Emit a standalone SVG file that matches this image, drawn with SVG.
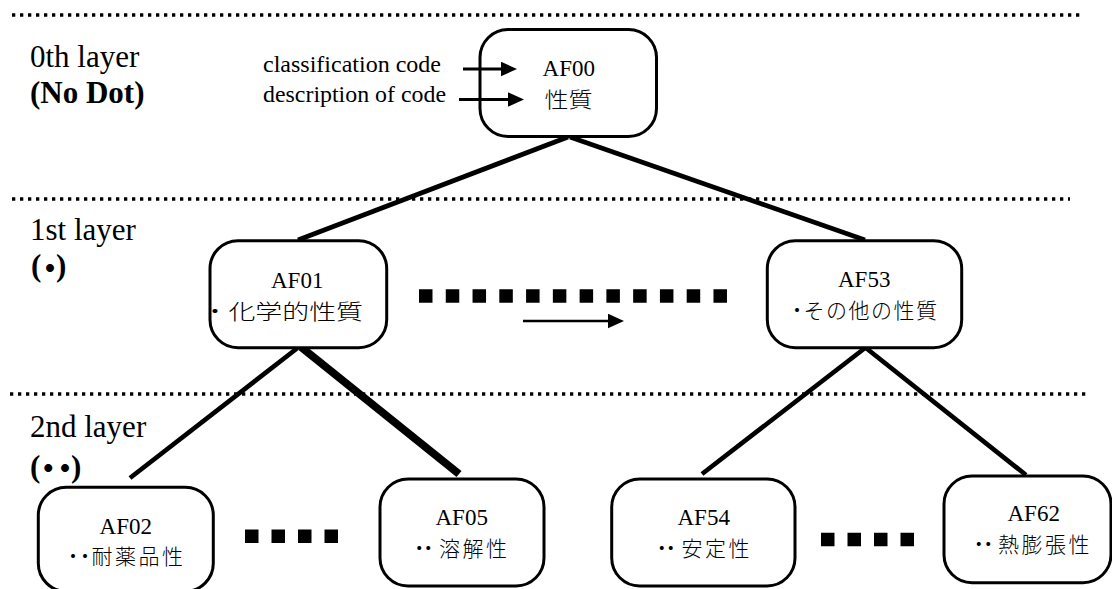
<svg xmlns="http://www.w3.org/2000/svg" width="1112" height="589" viewBox="0 0 1112 589">
<style>
.bg{fill:#fff}
.sep{stroke:#000;stroke-width:3.3;stroke-dasharray:3.3 4.7;fill:none}
.box{fill:#fff;stroke:#000;stroke-width:3}
.code{font-family:"Liberation Serif","Times New Roman",serif;font-size:23px;fill:#000;text-anchor:middle}
.jp{font-family:"Noto Sans CJK JP","Noto Sans CJK SC",sans-serif;font-size:21px;font-weight:300;fill:#000}
.layer{font-family:"Liberation Serif","Times New Roman","Noto Sans CJK JP",serif;font-size:31px;fill:#000}
.bold{font-weight:bold}
.note{font-family:"Liberation Serif","Times New Roman",serif;font-size:23px;fill:#000}
.edge{stroke:#000;stroke-width:4.7;fill:none}
.edge-thick{stroke:#000;stroke-width:8;fill:none}
.arrow{stroke:#000;stroke-width:3;fill:none;marker-end:url(#ah)}
.squares{stroke:#000;stroke-width:13.5;fill:none}
</style>
<defs>
<marker id="ah" markerUnits="userSpaceOnUse" markerWidth="17" markerHeight="16" refX="10" refY="7.5" orient="auto">
<path d="M0,0 L16.5,7.5 L0,15 z" fill="#000"/>
</marker>
</defs>
<rect class="bg" x="0" y="0" width="1112" height="589"/>

<g id="separators">
<line class="sep" x1="12" y1="15" x2="1080" y2="15"/>
<line class="sep" x1="12" y1="199" x2="1070" y2="199"/>
<line class="sep" x1="10" y1="394" x2="1086" y2="394"/>
</g>

<g id="layer-labels">
<text class="layer" x="30" y="67">0th layer</text>
<text class="layer bold" x="30" y="103">(No Dot)</text>
<text class="layer" x="30" y="240">1st layer</text>
<text class="layer bold" x="31 34.5 56" y="276 279 276">(・)</text>
<text class="layer" x="30" y="437">2nd layer</text>
<text class="layer bold" x="30 32.8 49.5 71" y="477 479 479 477">(・・)</text>
</g>

<g id="connectors">
<line class="edge" x1="568" y1="137" x2="298" y2="240"/>
<line class="edge" x1="570" y1="137" x2="865" y2="240"/>
<line class="edge" x1="297.5" y1="348" x2="130" y2="478"/>
<line class="edge-thick" x1="301" y1="347" x2="459" y2="474"/>
<line class="edge" x1="865" y1="348" x2="702" y2="474"/>
<line class="edge" x1="866" y1="348" x2="1026" y2="475"/>
<line class="arrow" x1="523" y1="321" x2="617.5" y2="321" style="stroke-width:2.7"/>
</g>

<g id="ellipses">
<line class="squares" x1="419" y1="296" x2="727" y2="296" stroke-dasharray="13.5 13.27"/>
<line class="squares" x1="245" y1="536.3" x2="338" y2="536.3" stroke-dasharray="13.5 13"/>
<line class="squares" x1="821" y1="539.5" x2="914" y2="539.5" stroke-dasharray="13.5 13"/>
</g>

<g id="annotations">
<text class="note" x="263" y="72" textLength="178" lengthAdjust="spacingAndGlyphs">classification code</text>
<text class="note" x="263" y="102" textLength="183" lengthAdjust="spacingAndGlyphs">description of code</text>
</g>

<g id="node-AF00">
<rect class="box" x="480" y="29.5" width="176.5" height="107" rx="28" ry="28"/>
<text class="code" x="568.8" y="75.5">AF00</text>
<text class="jp" x="568.5" y="106.5" text-anchor="middle" textLength="48" lengthAdjust="spacingAndGlyphs">性質</text>
</g>

<g id="node-AF01">
<rect class="box" x="210" y="240.7" width="176.7" height="107" rx="28" ry="28"/>
<text class="code" x="297.2" y="287.5">AF01</text>
<text class="jp" x="201.5" y="318.5" textLength="161.5" lengthAdjust="spacingAndGlyphs">・化学的性質</text>
</g>

<g id="node-AF53">
<rect class="box" x="767.3" y="240.7" width="194.4" height="107" rx="28" ry="28"/>
<text class="code" x="864.2" y="286.5">AF53</text>
<text class="jp" x="786.5 803.5 826 848.5 871 893.5 916" y="318">・その他の性質</text>
</g>

<g id="node-AF02">
<rect class="box" x="38.3" y="487.3" width="175" height="104" rx="28" ry="28"/>
<text class="code" x="125.8" y="533.5">AF02</text>
<text class="jp" x="62.5 74.5 91.5 115 138.5 162" y="564">・・耐薬品性</text>
</g>

<g id="node-AF05">
<rect class="box" x="380" y="479" width="164" height="107" rx="28" ry="28"/>
<text class="code" x="461.7" y="525">AF05</text>
<text class="jp" x="408.8 417.8 439 462.5 486" y="555.5">・・溶解性</text>
</g>

<g id="node-AF54">
<rect class="box" x="611.7" y="479" width="183.3" height="107" rx="28" ry="28"/>
<text class="code" x="703.7" y="525">AF54</text>
<text class="jp" x="651.2 660.2 681.5 705 728.5" y="555.5">・・安定性</text>
</g>

<g id="node-AF62">
<rect class="box" x="944" y="476" width="167" height="106.7" rx="28" ry="28"/>
<text class="code" x="1033.7" y="521">AF62</text>
<text class="jp" x="968.2 977.8 998 1021.5 1045 1068.5" y="551.5">・・熱膨張性</text>
</g>

<g id="annotation-arrows">
<line class="arrow" x1="463" y1="69" x2="510.5" y2="69"/>
<line class="arrow" x1="459" y1="99.5" x2="517.5" y2="99.5"/>
</g>
</svg>
